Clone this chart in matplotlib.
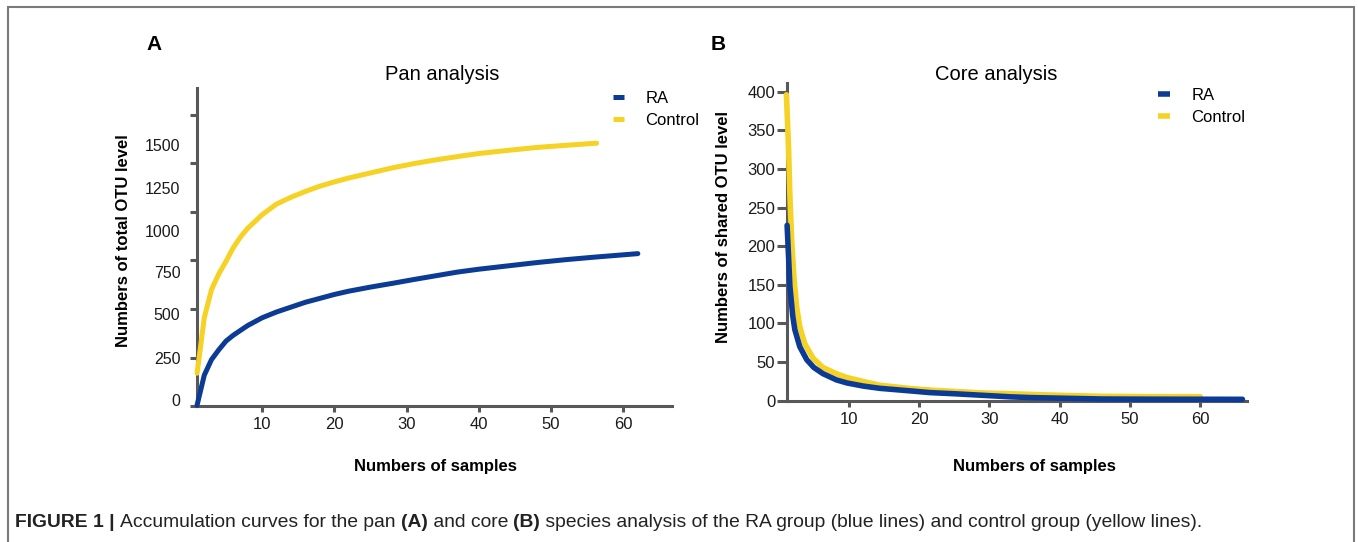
import matplotlib
matplotlib.use('Agg')
import matplotlib.pyplot as plt
from matplotlib.patches import Rectangle

plt.rcParams['font.family'] = ['Liberation Sans', 'DejaVu Sans']

# ---- data ----
# A: pan analysis (total OTU level)
pan_x_ra = [1, 2, 3, 4, 5, 6, 8, 10, 12, 14, 16, 18, 20, 22, 25, 28, 31, 34, 37,
            40, 44, 48, 52, 56, 59, 62]
pan_ra = [5, 160, 240, 290, 335, 365, 415, 455, 485, 510, 535, 555, 575, 592, 613,
          632, 652, 671, 690, 705, 722, 739, 754, 767, 776, 785]
pan_x_ctrl = [1, 1.5, 2, 3, 4, 5, 6, 7, 8, 10, 12, 14, 16, 18, 20, 22, 25, 28, 31,
              34, 37, 40, 44, 48, 52, 56.3]
pan_ctrl = [170, 310, 455, 600, 680, 745, 815, 870, 915, 985, 1040, 1075, 1105,
            1132, 1154, 1174, 1200, 1226, 1248, 1267, 1284, 1300, 1316, 1331, 1342,
            1353]

# B: core analysis (shared OTU level)
core_x_ra = [1.2, 1.4, 1.6, 2, 2.3, 3, 4, 5, 6.3, 8.2, 9.7, 12, 14.4, 19, 21.5, 25,
             29, 33, 36, 40, 46, 52, 58, 66]
core_ra = [227, 188, 148, 110, 92, 70, 53, 43, 35, 27, 23, 19, 16, 12.5, 10.5, 9,
           7, 5, 4, 3.3, 2.2, 2, 1.9, 1.8]
core_x_ctrl = [1.1, 1.4, 1.6, 1.85, 2.2, 2.55, 3, 3.7, 4.9, 6.3, 8.2, 9.7, 12, 14.4,
               19, 22, 25, 29, 33, 38, 42, 46, 52, 56, 60]
core_ctrl = [396, 329, 264, 208, 156, 122, 96, 74, 55, 43, 35, 30, 25, 20, 15.5,
             13.5, 12, 10, 9, 7.5, 6.5, 5.7, 5.3, 5.2, 5.2]

x_ticks = [10, 20, 30, 40, 50, 60]
pan_tick_marks = [0, 250, 500, 750, 1000, 1250, 1500]
pan_tick_labels = ['0', '250', '500', '750', '1000', '1250', '1500']
# the original prints the pan labels a little off their tick marks
pan_label_pos = [32, 250, 473, 692, 903, 1121, 1344]
core_ticks = [0, 50, 100, 150, 200, 250, 300, 350, 400]

blue = '#0b3b94'
yellow = '#f5d224'
spine_c = '#58585a'
W, H = 1358, 542

fig = plt.figure(figsize=(13.58, 5.42), dpi=100)

def px(x, y):
    return x / W, 1 - y / H

axA = fig.add_axes([0.1451, 0.2504, 0.3496, 0.5873])
axB = fig.add_axes([0.5795, 0.2607, 0.3385, 0.5867])

for ax in (axA, axB):
    for s in ('top', 'right'):
        ax.spines[s].set_visible(False)
    for s in ('left', 'bottom'):
        ax.spines[s].set_color(spine_c)
        ax.spines[s].set_linewidth(2.2)
    ax.set_xticks(x_ticks)
    ax.tick_params(axis='x', length=4, width=2.2, color=spine_c, pad=4,
                   labelsize=12, labelcolor='#1a1a1a')

# panel A
axA.plot(pan_x_ra, pan_ra, color=blue, lw=3.6, solid_capstyle='round',
         label='RA', clip_on=False, zorder=5)
axA.plot(pan_x_ctrl, pan_ctrl, color=yellow, lw=3.6, solid_capstyle='round',
         label='Control', clip_on=False, zorder=5)
axA.set_xlim(1, 66.7)
axA.set_ylim(0, 1637)
axA.yaxis.remove_overlapping_locs = False
axA.set_yticks(pan_tick_marks)
axA.set_yticklabels([])
axA.set_yticks(pan_label_pos, minor=True)
axA.set_yticklabels(pan_tick_labels, minor=True)
axA.tick_params(axis='y', which='major', length=5, width=2.2, color=spine_c)
axA.tick_params(axis='y', which='minor', length=0, pad=12, labelsize=11.5,
                labelcolor='#1a1a1a')
legA = axA.legend(loc='upper left', bbox_to_anchor=px(613, 91),
                  bbox_transform=fig.transFigure, frameon=False,
                  handlelength=0.65, handletextpad=1.3, labelspacing=0.4,
                  borderpad=0, borderaxespad=0, fontsize=12)
for h in legA.get_lines():
    h.set_solid_capstyle('butt')

# panel B
axB.plot(core_x_ra, core_ra, color=blue, lw=4.0, solid_capstyle='round',
         label='RA', clip_on=False, zorder=5)
axB.plot(core_x_ctrl, core_ctrl, color=yellow, lw=4.0, solid_capstyle='round',
         label='Control', clip_on=False, zorder=4)
axB.set_xlim(1.18, 66.6)
axB.set_ylim(0, 411.6)
axB.set_yticks(core_ticks)
axB.tick_params(axis='y', length=7, width=2.2, color=spine_c, pad=1.5,
                labelsize=12, labelcolor='#1a1a1a')
legB = axB.legend(loc='upper left', bbox_to_anchor=px(1158, 88),
                  bbox_transform=fig.transFigure, frameon=False,
                  handlelength=0.7, handletextpad=1.3, labelspacing=0.4,
                  borderpad=0, borderaxespad=0, fontsize=12)
for h in legB.get_lines():
    h.set_solid_capstyle('butt')

# titles and labels
fig.text(*px(442, 74), 'Pan analysis', ha='center', va='center', fontsize=14.5)
fig.text(*px(996, 74), 'Core analysis', ha='center', va='center', fontsize=14.5)
fig.text(*px(154, 44), 'A', ha='center', va='center', fontsize=15, fontweight='bold')
fig.text(*px(718, 44), 'B', ha='center', va='center', fontsize=15, fontweight='bold')
fig.text(*px(123, 241), 'Numbers of total OTU level', rotation=90, ha='center',
         va='center', fontsize=12, fontweight='bold')
fig.text(*px(723, 227), 'Numbers of shared OTU level', rotation=90, ha='center',
         va='center', fontsize=12, fontweight='bold')
fig.text(*px(435, 467), 'Numbers of samples', ha='center', va='center',
         fontsize=12, fontweight='bold')
fig.text(*px(1034, 466), 'Numbers of samples', ha='center', va='center',
         fontsize=12, fontweight='bold')

# frame around the figure
fig.patches.append(Rectangle((7.5 / W, -0.1), (1354 - 7.5) / W, 1 - 6.5 / H + 0.1,
                             transform=fig.transFigure, fill=False,
                             edgecolor='#7a7a7a', lw=1.5, clip_on=False))

# caption with bold parts
caption = [('FIGURE 1 | ', 'bold'), ('Accumulation curves for the pan ', 'normal'),
           ('(A)', 'bold'), (' and core ', 'normal'), ('(B)', 'bold'),
           (' species analysis of the RA group (blue lines) and control group (yellow lines).',
            'normal')]
renderer = fig.canvas.get_renderer()
x0 = 15
for txt, wt in caption:
    t = fig.text(*px(x0, 527), txt, ha='left', va='baseline', fontsize=13.85,
                 fontweight=wt, color='#222222')
    bb = t.get_window_extent(renderer=renderer)
    x0 = bb.x1

fig.savefig('out.png', dpi=100)
